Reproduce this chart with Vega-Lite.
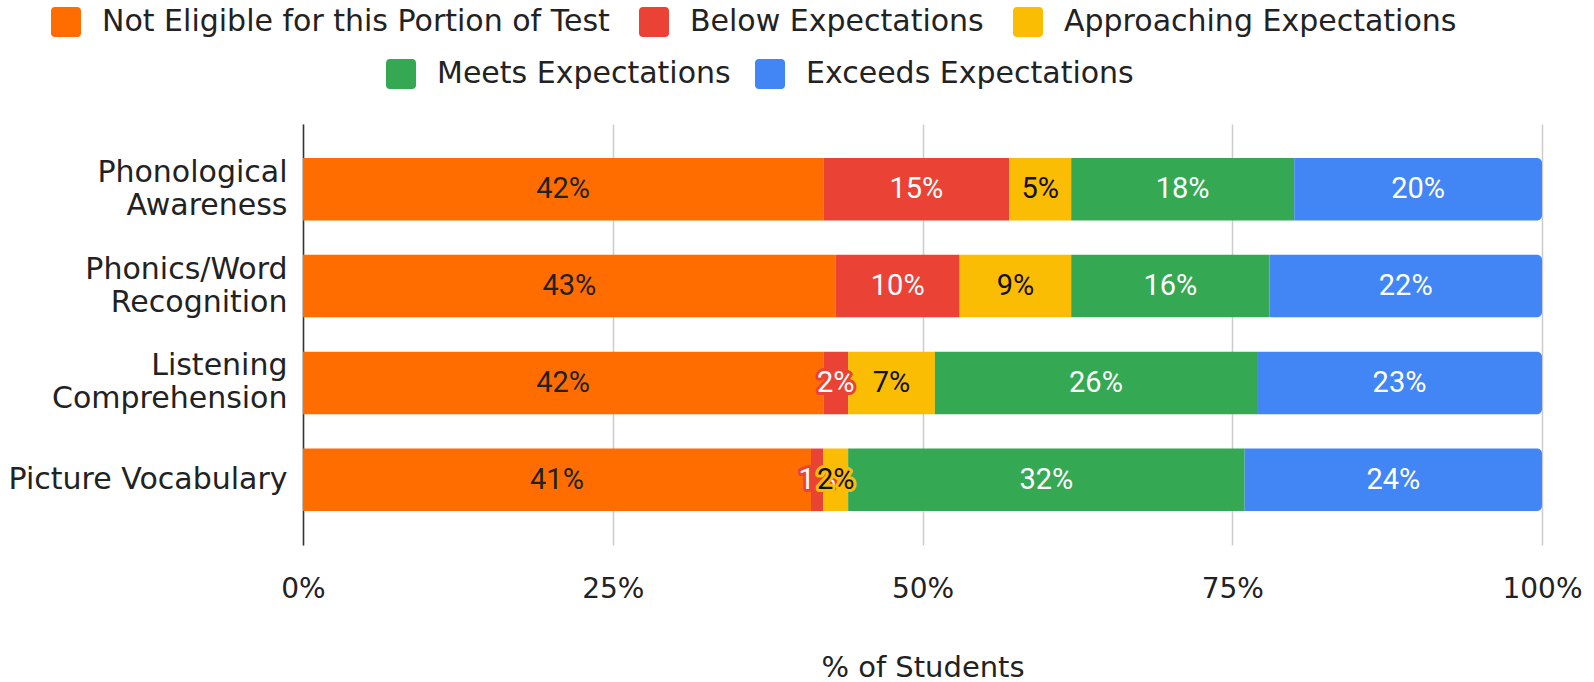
{
  "$schema": "https://vega.github.io/schema/vega-lite/v6.json",
  "width": 1239,
  "height": 421,
  "autosize": {"type": "none"},
  "padding": {"left": 303, "top": 124, "right": 52, "bottom": 137},
  "background": "#ffffff",
  "config": {
    "view": {"stroke": null},
    "font": "DejaVu Sans",
    "legend": {"padding": 0}
  },
  "data": {
    "values": [
      {"skill": "Phonological Awareness", "status": "Not Eligible for this Portion of Test", "order": 1, "value": 0.42},
      {"skill": "Phonological Awareness", "status": "Below Expectations", "order": 2, "value": 0.15},
      {"skill": "Phonological Awareness", "status": "Approaching Expectations", "order": 3, "value": 0.05},
      {"skill": "Phonological Awareness", "status": "Meets Expectations", "order": 4, "value": 0.18},
      {"skill": "Phonological Awareness", "status": "Exceeds Expectations", "order": 5, "value": 0.20},
      {"skill": "Phonics/Word Recognition", "status": "Not Eligible for this Portion of Test", "order": 1, "value": 0.43},
      {"skill": "Phonics/Word Recognition", "status": "Below Expectations", "order": 2, "value": 0.10},
      {"skill": "Phonics/Word Recognition", "status": "Approaching Expectations", "order": 3, "value": 0.09},
      {"skill": "Phonics/Word Recognition", "status": "Meets Expectations", "order": 4, "value": 0.16},
      {"skill": "Phonics/Word Recognition", "status": "Exceeds Expectations", "order": 5, "value": 0.22},
      {"skill": "Listening Comprehension", "status": "Not Eligible for this Portion of Test", "order": 1, "value": 0.42},
      {"skill": "Listening Comprehension", "status": "Below Expectations", "order": 2, "value": 0.02},
      {"skill": "Listening Comprehension", "status": "Approaching Expectations", "order": 3, "value": 0.07},
      {"skill": "Listening Comprehension", "status": "Meets Expectations", "order": 4, "value": 0.26},
      {"skill": "Listening Comprehension", "status": "Exceeds Expectations", "order": 5, "value": 0.23},
      {"skill": "Picture Vocabulary", "status": "Not Eligible for this Portion of Test", "order": 1, "value": 0.41},
      {"skill": "Picture Vocabulary", "status": "Below Expectations", "order": 2, "value": 0.01},
      {"skill": "Picture Vocabulary", "status": "Approaching Expectations", "order": 3, "value": 0.02},
      {"skill": "Picture Vocabulary", "status": "Meets Expectations", "order": 4, "value": 0.32},
      {"skill": "Picture Vocabulary", "status": "Exceeds Expectations", "order": 5, "value": 0.24}
    ]
  },
  "transform": [
    {"stack": "value", "groupby": ["skill"], "sort": [{"field": "order", "order": "ascending"}], "offset": "zero", "as": ["x0", "x1"]},
    {"calculate": "(datum.x0 + datum.x1) / 2", "as": "xm"}
  ],
  "encoding": {
    "y": {
      "field": "skill",
      "type": "nominal",
      "sort": ["Phonological Awareness", "Phonics/Word Recognition", "Listening Comprehension", "Picture Vocabulary"],
      "scale": {"paddingInner": 0.354, "paddingOuter": 0.35},
      "axis": {
        "title": null,
        "domain": true,
        "domainColor": "#333333",
        "domainWidth": 1.5,
        "ticks": false,
        "grid": false,
        "labelFont": "DejaVu Sans",
        "labelFontSize": 30,
        "labelColor": "#222222",
        "labelPadding": 16,
        "labelLimit": 400,
        "labelLineHeight": 33,
        "labelOffset": {"condition": {"test": "datum.label == 'Picture Vocabulary'", "value": 0}, "value": -16.5},
        "labelExpr": "datum.label == 'Picture Vocabulary' ? datum.label : split(datum.label, ' ')"
      }
    }
  },
  "layer": [
    {
      "transform": [{"filter": "datum.order <= 3"}],
      "mark": {"type": "bar"},
      "encoding": {
        "x": {
          "field": "x0",
          "type": "quantitative",
          "scale": {"domain": [0, 1], "nice": false, "zero": true},
          "axis": {
            "title": "% of Students",
            "titleFont": "DejaVu Sans",
            "titleFontSize": 29,
            "titleFontWeight": "normal",
            "titleColor": "#222222",
            "titlePadding": 50,
            "values": [0, 0.25, 0.5, 0.75, 1],
            "format": ".0%",
            "domain": false,
            "ticks": false,
            "grid": true,
            "gridColor": "#cccccc",
            "gridWidth": 1.5,
            "labelFont": "DejaVu Sans",
            "labelFontSize": 28,
            "labelColor": "#222222",
            "labelPadding": 30,
            "labelFlush": false,
            "labelOverlap": false,
            "labelBound": false
          }
        },
        "x2": {"field": "x1"},
        "fill": {
          "field": "status",
          "type": "nominal",
          "scale": {
            "domain": ["Not Eligible for this Portion of Test", "Below Expectations", "Approaching Expectations"],
            "range": ["#FF6D01", "#EA4335", "#FBBC04"]
          },
          "legend": {
            "title": null,
            "orient": "none",
            "direction": "horizontal",
            "legendX": -252,
            "legendY": -117,
            "symbolType": "M-1,-0.75 L-1,0.75 A0.25,0.25 0 0 0 -0.75,1 L0.75,1 A0.25,0.25 0 0 0 1,0.75 L1,-0.75 A0.25,0.25 0 0 0 0.75,-1 L-0.75,-1 A0.25,0.25 0 0 0 -1,-0.75 Z",
            "symbolSize": 900,
            "symbolStrokeWidth": 0,
            "labelFont": "DejaVu Sans",
            "labelFontSize": 30,
            "labelColor": "#222222",
            "labelOffset": 21,
            "labelLimit": 800,
            "columnPadding": 29
          }
        }
      }
    },
    {
      "transform": [{"filter": "datum.order == 4"}],
      "mark": {"type": "bar"},
      "encoding": {
        "x": {"field": "x0", "type": "quantitative"},
        "x2": {"field": "x1"},
        "color": {
          "field": "status",
          "type": "nominal",
          "scale": {
            "domain": ["Meets Expectations", "Exceeds Expectations"],
            "range": ["#34A853", "#4285F4"]
          },
          "legend": {
            "title": null,
            "orient": "none",
            "direction": "horizontal",
            "legendX": 83,
            "legendY": -65,
            "symbolType": "M-1,-0.75 L-1,0.75 A0.25,0.25 0 0 0 -0.75,1 L0.75,1 A0.25,0.25 0 0 0 1,0.75 L1,-0.75 A0.25,0.25 0 0 0 0.75,-1 L-0.75,-1 A0.25,0.25 0 0 0 -1,-0.75 Z",
            "symbolSize": 900,
            "symbolStrokeWidth": 0,
            "labelFont": "DejaVu Sans",
            "labelFontSize": 30,
            "labelColor": "#222222",
            "labelOffset": 21,
            "labelLimit": 800,
            "columnPadding": 24
          }
        }
      }
    },
    {
      "transform": [{"filter": "datum.order == 5"}],
      "mark": {"type": "bar", "cornerRadiusTopRight": 5, "cornerRadiusBottomRight": 5},
      "encoding": {
        "x": {"field": "x0", "type": "quantitative"},
        "x2": {"field": "x1"},
        "color": {
          "field": "status",
          "type": "nominal",
          "scale": {
            "domain": ["Meets Expectations", "Exceeds Expectations"],
            "range": ["#34A853", "#4285F4"]
          }
        }
      }
    },
    {
      "transform": [{"filter": "datum.order != 3"}],
      "mark": {"type": "text", "font": "Roboto", "fontSize": 29, "align": "center", "baseline": "middle", "fill": "transparent", "strokeWidth": 6, "strokeJoin": "round"},
      "encoding": {
        "x": {"field": "xm", "type": "quantitative"},
        "text": {"field": "value", "type": "quantitative", "format": ".0%"},
        "stroke": {
          "field": "status",
          "type": "nominal",
          "scale": {
            "domain": ["Not Eligible for this Portion of Test", "Below Expectations", "Approaching Expectations", "Meets Expectations", "Exceeds Expectations"],
            "range": ["#FF6D01", "#EA4335", "#FBBC04", "#34A853", "#4285F4"]
          },
          "legend": null
        }
      }
    },
    {
      "transform": [{"filter": "datum.order != 3"}],
      "mark": {"type": "text", "font": "Roboto", "fontSize": 29, "align": "center", "baseline": "middle"},
      "encoding": {
        "x": {"field": "xm", "type": "quantitative"},
        "text": {"field": "value", "type": "quantitative", "format": ".0%"},
        "fill": {"condition": {"test": "datum.order == 1", "value": "#222222"}, "value": "#ffffff"}
      }
    },
    {
      "transform": [{"filter": "datum.order == 3"}],
      "mark": {"type": "text", "font": "Roboto", "fontSize": 29, "align": "center", "baseline": "middle", "fill": "transparent", "strokeWidth": 6, "strokeJoin": "round"},
      "encoding": {
        "x": {"field": "xm", "type": "quantitative"},
        "text": {"field": "value", "type": "quantitative", "format": ".0%"},
        "stroke": {
          "field": "status",
          "type": "nominal",
          "scale": {
            "domain": ["Not Eligible for this Portion of Test", "Below Expectations", "Approaching Expectations", "Meets Expectations", "Exceeds Expectations"],
            "range": ["#FF6D01", "#EA4335", "#FBBC04", "#34A853", "#4285F4"]
          },
          "legend": null
        }
      }
    },
    {
      "transform": [{"filter": "datum.order == 3"}],
      "mark": {"type": "text", "font": "Roboto", "fontSize": 29, "align": "center", "baseline": "middle", "fill": "#111111"},
      "encoding": {
        "x": {"field": "xm", "type": "quantitative"},
        "text": {"field": "value", "type": "quantitative", "format": ".0%"}
      }
    }
  ]
}
